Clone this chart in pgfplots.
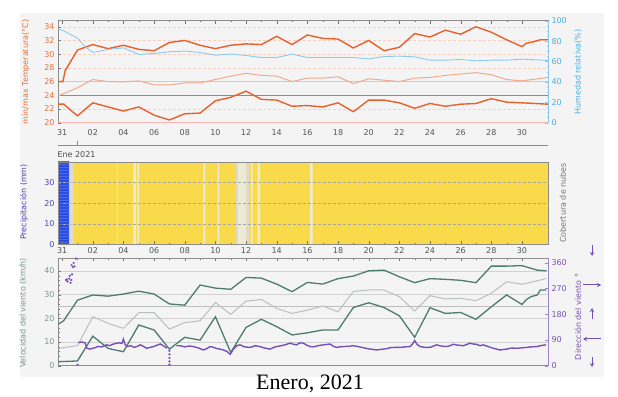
\documentclass[border=0pt]{standalone}
\usepackage{pgfplots}
\pgfplotsset{compat=1.18}
\usepackage{fontspec}
\setmainfont{DejaVu Sans}
\newfontfamily\capfont{Liberation Serif}
\usetikzlibrary{arrows.meta,patterns}

\definecolor{tmax}{HTML}{E8602C}
\definecolor{tmean}{HTML}{F2AA8C}
\definecolor{hum}{HTML}{8CCBEF}
\definecolor{humlab}{HTML}{4AAEE0}
\definecolor{tlab}{HTML}{E87038}
\definecolor{precip}{HTML}{4A48B0}
\definecolor{cyellow}{HTML}{F8DA4A}
\definecolor{cgap}{HTML}{EFEBD2}
\definecolor{cgray}{HTML}{DDDAD0}
\definecolor{cblue}{HTML}{2B4CE0}
\definecolor{cbluel}{HTML}{4A68EE}
\definecolor{wdark}{HTML}{4E7B6F}
\definecolor{wlight}{HTML}{B8C0BC}
\definecolor{wlab}{HTML}{7A9A92}
\definecolor{wdir}{HTML}{7650B8}
\definecolor{bg}{HTML}{F4F4F4}
\definecolor{ticklab}{HTML}{555555}

\pgfplotsset{
  panel/.style={scale only axis, width=490pt, xmin=-0.27, xmax=31.7,
    /pgf/number format/assume math mode=true,
    tick label style={font=\fontsize{8}{9}\selectfont},
    xticklabel style={text=ticklab},
    axis line style={black!45}, tick style={black!55},
    major tick length=3pt, minor tick length=1.5pt,
    xtick={0,2,...,30},
    xticklabels={31,02,04,06,08,10,12,14,16,18,20,22,24,26,28,30},
    minor x tick num=1,
  },
  ovl/.style={scale only axis, width=490pt, xmin=-0.27, xmax=31.7,
    /pgf/number format/assume math mode=true,
    tick label style={font=\fontsize{8}{9}\selectfont},
    hide x axis, axis y line*=right, major tick length=3pt, minor tick length=1.5pt,
  }
}

\begin{document}
\begin{tikzpicture}
\useasboundingbox (0pt,0pt) rectangle (618pt,396pt);
\fill[white] (0pt,0pt) rectangle (618pt,396pt);
\fill[bg] (20pt,19pt) rectangle (604pt,383pt);

%================ Panel 1: temperature / humidity
\begin{axis}[panel, at={(58pt,273.3pt)}, anchor=south west, height=102pt,
  ymin=20, ymax=34.88, ytick={20,22,...,34}, ytick pos=left,
  xtick pos=upper, xticklabel pos=lower,
  yticklabel style={text=tlab}, xticklabel style={yshift=-3pt},
  x axis line style={black!60},
  ymajorgrids, major grid style={densely dashed, tmax!30, line width=0.4pt}]
\draw[black!20, line width=0.8pt] (axis cs:-0.27,26) -- (axis cs:31.7,26);
\draw[red!65, line width=0.8pt] (axis cs:-0.27,24) -- (axis cs:31.7,24);
\draw[red!30, line width=1pt] (axis cs:-0.27,20.05) -- (axis cs:31.7,20.05);
\addplot[tmean, line width=1pt] coordinates {
(-0.27,23.9) (1,25.1) (2,26.3) (3,26.0) (4,25.95) (5,26.1) (6,25.5) (7,25.5) (8,25.8) (9,25.8)
(10,26.3) (11,26.8) (12,27.2) (13,26.9) (14,26.8) (15,26.0) (16,26.5) (17,26.5) (18,26.7) (19,25.7)
(20,26.4) (21,26.2) (22,26.0) (23,26.5) (24,26.6) (25,26.9) (26,27.1) (27,27.3) (28,27.0) (29,26.3)
(30,26.1) (31.7,26.6)};
\addplot[tmax, line width=1.4pt] coordinates {
(-0.27,26) (0.05,26) (0.2,27.6) (1,30.6) (2,31.4) (3,30.8) (4,31.3) (5,30.7) (6,30.5) (7,31.7)
(8,32.0) (9,31.3) (10,30.8) (11,31.3) (12,31.5) (13,31.4) (14,32.6) (15,31.4) (16,32.8) (17,32.3)
(18,32.2) (19,30.9) (20,32.0) (21,30.5) (22,31.0) (23,33.0) (24,32.5) (25,33.5) (26,32.9) (27,34.0)
(28,33.2) (29,32.1) (30,31.1) (30.3,31.6) (30.75,31.8) (31.2,32.1) (31.7,32.1)};
\addplot[tmax, line width=1.4pt] coordinates {
(-0.27,22.7) (0.1,22.7) (1,21.0) (2,22.9) (3,22.3) (4,21.7) (5,22.3) (6,21.1) (7,20.4) (8,21.3)
(9,21.4) (10,23.2) (11,23.7) (12,24.6) (13,23.4) (14,23.3) (15,22.4) (16,22.5) (17,22.3) (18,22.9)
(19,21.6) (20,23.3) (21,23.3) (22,22.9) (23,22.1) (24,22.8) (25,22.4) (26,22.7) (27,22.8) (28,23.5)
(29,23.0) (30,22.9) (31.7,22.7)};
\end{axis}
\begin{axis}[ovl, at={(58pt,273.3pt)}, anchor=south west, height=102pt,
  ymin=0, ymax=100, ytick={0,20,...,100}, minor y tick num=3,
  yticklabel style={text=humlab}, y axis line style={hum}, ytick style={hum}]
\addplot[hum, line width=0.9pt] coordinates {
(-0.27,91.5) (0,90.8) (1,83) (1.5,74.4) (2,68.9) (3,71.8) (4,73.4) (5,66.9) (6,67.9) (7,69.5)
(8,70.2) (9,68.9) (10,66.2) (11,67.2) (12,65.9) (13,63.9) (14,63.9) (15,67.2) (16,63.9) (17,63.9)
(18,63.9) (19,63.9) (20,62.6) (21,64.9) (22,65.2) (23,64.6) (24,61.3) (25,61.3) (26,62) (27,60.7)
(28,61.3) (29,61.3) (30,62.3) (31.7,61)};
\end{axis}

%================ Panel 2: precipitation / clouds
\begin{axis}[panel, at={(58pt,151.5pt)}, anchor=south west, height=82.5pt,
  ymin=0, ymax=40, ytick={0,10,20,30}, ytick pos=left, xtick pos=lower,
  yticklabel style={text=precip}, axis on top,
  ymajorgrids, major grid style={densely dashed, black!35, line width=0.4pt}]
\addplot[fill=cyellow, draw=none] coordinates {(0.80,40) (31.7,40)} \closedcycle;
\addplot[fill=cgray, draw=none] coordinates {(0.48,40) (0.80,40)} \closedcycle;
\addplot[fill=cgray, draw=none] coordinates {(11.32,40) (12.17,40)} \closedcycle;
\addplot[fill=cgap, draw=none] coordinates {(11.5,40) (12.0,40)} \closedcycle;
\addplot[fill=cgap, draw=none, const plot] coordinates {
(3.57,40) (3.62,0) (4.65,40) (4.81,0) (4.91,40) (5.02,0) (9.22,40) (9.33,0) (10.14,40) (10.24,0)
(12.33,40) (12.43,0) (12.75,40) (12.92,0) (16.18,40) (16.35,0) (16.36,0)} \closedcycle;
\addplot[fill=cblue, draw=none, postaction={pattern=horizontal lines, pattern color=cbluel}]
  coordinates {(-0.3,40) (0.48,40)} \closedcycle;
\end{axis}

%================ Panel 3: wind
\begin{axis}[panel, at={(58pt,30.3pt)}, anchor=south west, height=107.4pt,
  ymin=0, ymax=45.4, ytick={0,10,...,40}, minor y tick num=4, ytick pos=left,
  xtick pos=upper, xticklabels={},
  yticklabel style={text=wlab},
  ymajorgrids, major grid style={black!18, line width=1pt}]
\draw[black!25, line width=1pt] (axis cs:-0.27,25) -- (axis cs:31.7,25);
\addplot[wlight, line width=1pt] coordinates {
(-0.24,7.3) (0,7.5) (1,8.5) (2,20.7) (3,17.9) (4,15.8) (5,22.4) (6,22.4) (7,15.5) (8,18.2)
(9,19.0) (10,26.7) (11,21.7) (12,27.3) (13,28.0) (14,24.2) (15,22.1) (16,23.5) (17,25.2) (18,22.8)
(19,31.4) (20,32.0) (21,32.0) (22,29.2) (23,23.1) (24,29.6) (25,28.2) (26,28.5) (27,27.5) (28,30.6)
(29,35.5) (30,34.4) (31,35.9) (31.6,36.9)};
\addplot[wdark, line width=1.3pt] coordinates {
(-0.24,17.6) (0.1,19) (1,27.7) (2,29.9) (3,29.4) (4,30.3) (5,31.5) (6,30.3) (7,26.1) (8,25.6)
(9,34.1) (10,32.8) (11,32.3) (12,37.3) (13,37.0) (14,34.5) (15,31.3) (16,35.2) (17,34.5) (18,36.8)
(19,37.9) (20,40.1) (21,40.4) (22,37.6) (23,35.1) (24,36.8) (25,36.5) (26,36.1) (27,35.1) (28,42.1)
(29,42.1) (30,42.3) (31,40.4) (31.6,40.1)};
\addplot[wdark, line width=1.3pt] coordinates {
(-0.24,1.7) (1,2.0) (2,12.5) (3,7.3) (4,5.9) (5,17.2) (6,15.1) (7,7.0) (8,12.0) (9,10.8)
(10,20.7) (11,5.6) (12,16.2) (13,19.6) (14,16.5) (15,13.0) (16,13.9) (17,15.1) (18,15.1) (19,24.6)
(20,26.6) (21,24.6) (22,21.1) (23,12.0) (24,24.5) (25,22.1) (26,22.5) (27,19.6) (28,24.9) (29,29.9)
(30,25.9) (30.3,28.0) (30.6,29.2) (31,29.9) (31.2,32.0) (31.6,32.0)};
\end{axis}
\begin{axis}[ovl, at={(58pt,30.3pt)}, anchor=south west, height=107.4pt,
  ymin=0, ymax=376, ytick={0,90,180,270,360},
  yticklabel style={text=wdir}, y axis line style={wdir!70}, ytick style={wdir!70},
  unbounded coords=jump]
\addplot[wdir, line width=1.4pt] coordinates {
(1.05,81) (1.3,83) (1.5,80) (1.6,62) (1.8,58) (2.0,61) (2.2,64) (2.3,67) (2.6,66) (2.9,73)
(3.1,70) (3.25,74) (3.5,78) (3.7,80) (3.9,78) (4.0,93) (4.1,75) (4.22,67) (4.5,70) (4.7,64)
(4.87,67) (5.1,73) (5.3,68) (5.5,61) (5.75,64) (5.96,67) (6.2,72) (6.4,76) (6.6,70) (6.83,61)
(7.0,nan)
(7.45,70) (7.7,70) (8.0,66) (8.3,69) (8.57,67) (8.9,62) (9.2,55) (9.45,60) (9.65,67) (9.9,64)
(10.09,60) (10.3,58) (10.52,55) (10.75,50) (10.96,40) (11.2,60) (11.4,70) (11.61,73) (11.9,66) (12.26,64)
(12.6,70) (12.91,67) (13.2,62) (13.57,58) (13.8,64) (14.0,67) (14.3,70) (14.6,74) (14.87,79) (15.1,75)
(15.3,73) (15.5,80) (15.74,79) (15.95,72) (16.17,67) (16.4,66) (16.61,69) (16.9,72) (17.2,74) (17.48,76)
(17.7,68) (17.91,64) (18.1,66) (18.35,67) (18.7,68) (19.0,70) (19.3,67) (19.65,63) (19.9,60) (20.09,58)
(20.3,57) (20.52,55) (20.75,57) (20.96,58) (21.2,60) (21.39,63) (21.7,64) (22.04,64) (22.4,66) (22.7,67)
(22.85,75) (23.0,88) (23.15,75) (23.35,67) (23.7,64) (24.0,64) (24.2,68) (24.43,73) (24.7,69) (25.09,67)
(25.3,70) (25.52,75) (25.8,72) (26.17,70) (26.4,74) (26.6,79) (26.8,76) (27.04,75) (27.25,70) (27.48,73)
(27.8,67) (28.13,61) (28.35,58) (28.57,55) (28.8,57) (29.0,58) (29.3,62) (29.65,61) (29.9,62) (30.3,64)
(30.6,66) (30.96,67) (31.2,70) (31.57,73)};
\addplot[only marks, mark=*, mark size=0.9pt, wdir] coordinates {
(0.25,300) (0.35,295) (0.45,305) (0.55,290) (0.5,315) (0.65,320) (0.3,302) (0.6,300)
(0.62,352) (0.7,345) (0.75,360) (0.8,348) (0.9,375)
(7.0,52) (7.0,40) (7.0,27) (7.0,15) (7.0,4) (1.0,3)};
\end{axis}

%================ decorations and labels
\draw[black!45, line width=0.6pt] (58pt,251pt) -- (548pt,251pt);
\draw[black!45, line width=0.6pt] (77pt,251pt) -- (77pt,255pt);
\node[anchor=west, text=black!70, font=\fontsize{8}{9}\selectfont] at (54pt,241pt) {Ene 2021};

\node[rotate=90, text=tlab, font=\fontsize{8}{9}\selectfont] at (26pt,324pt) {min/max Temperatura(°C)};
\node[rotate=90, text=humlab, font=\fontsize{8}{9}\selectfont] at (578pt,324pt) {Humedad relativa(\%)};
\node[rotate=90, text=precip, font=\fontsize{8}{9}\selectfont] at (24pt,194pt) {Precipitación (mm)};
\node[rotate=90, text=black!55, font=\fontsize{8}{9}\selectfont] at (563pt,193pt) {Cobertura de nubes};
\node[rotate=90, text=wlab, font=\fontsize{8}{9}\selectfont] at (23pt,83pt) {Velocidad del viento (km/h)};
\node[rotate=90, text=wdir, font=\fontsize{8}{9}\selectfont] at (578pt,79pt) {Dirección del viento °};

\begin{scope}[wdir, line width=1pt, -{Stealth[length=4pt,width=4pt]}]
\draw (592pt,151pt) -- (592pt,140pt);
\draw (583pt,111pt) -- (601pt,111pt);
\draw (592pt,77pt) -- (592pt,88pt);
\draw (601pt,57pt) -- (583pt,57pt);
\draw (592pt,39pt) -- (592pt,29pt);
\end{scope}

\node[anchor=base, font=\capfont\fontsize{22}{24}\selectfont] at (310pt,7pt) {Enero, 2021};
\end{tikzpicture}
\end{document}
